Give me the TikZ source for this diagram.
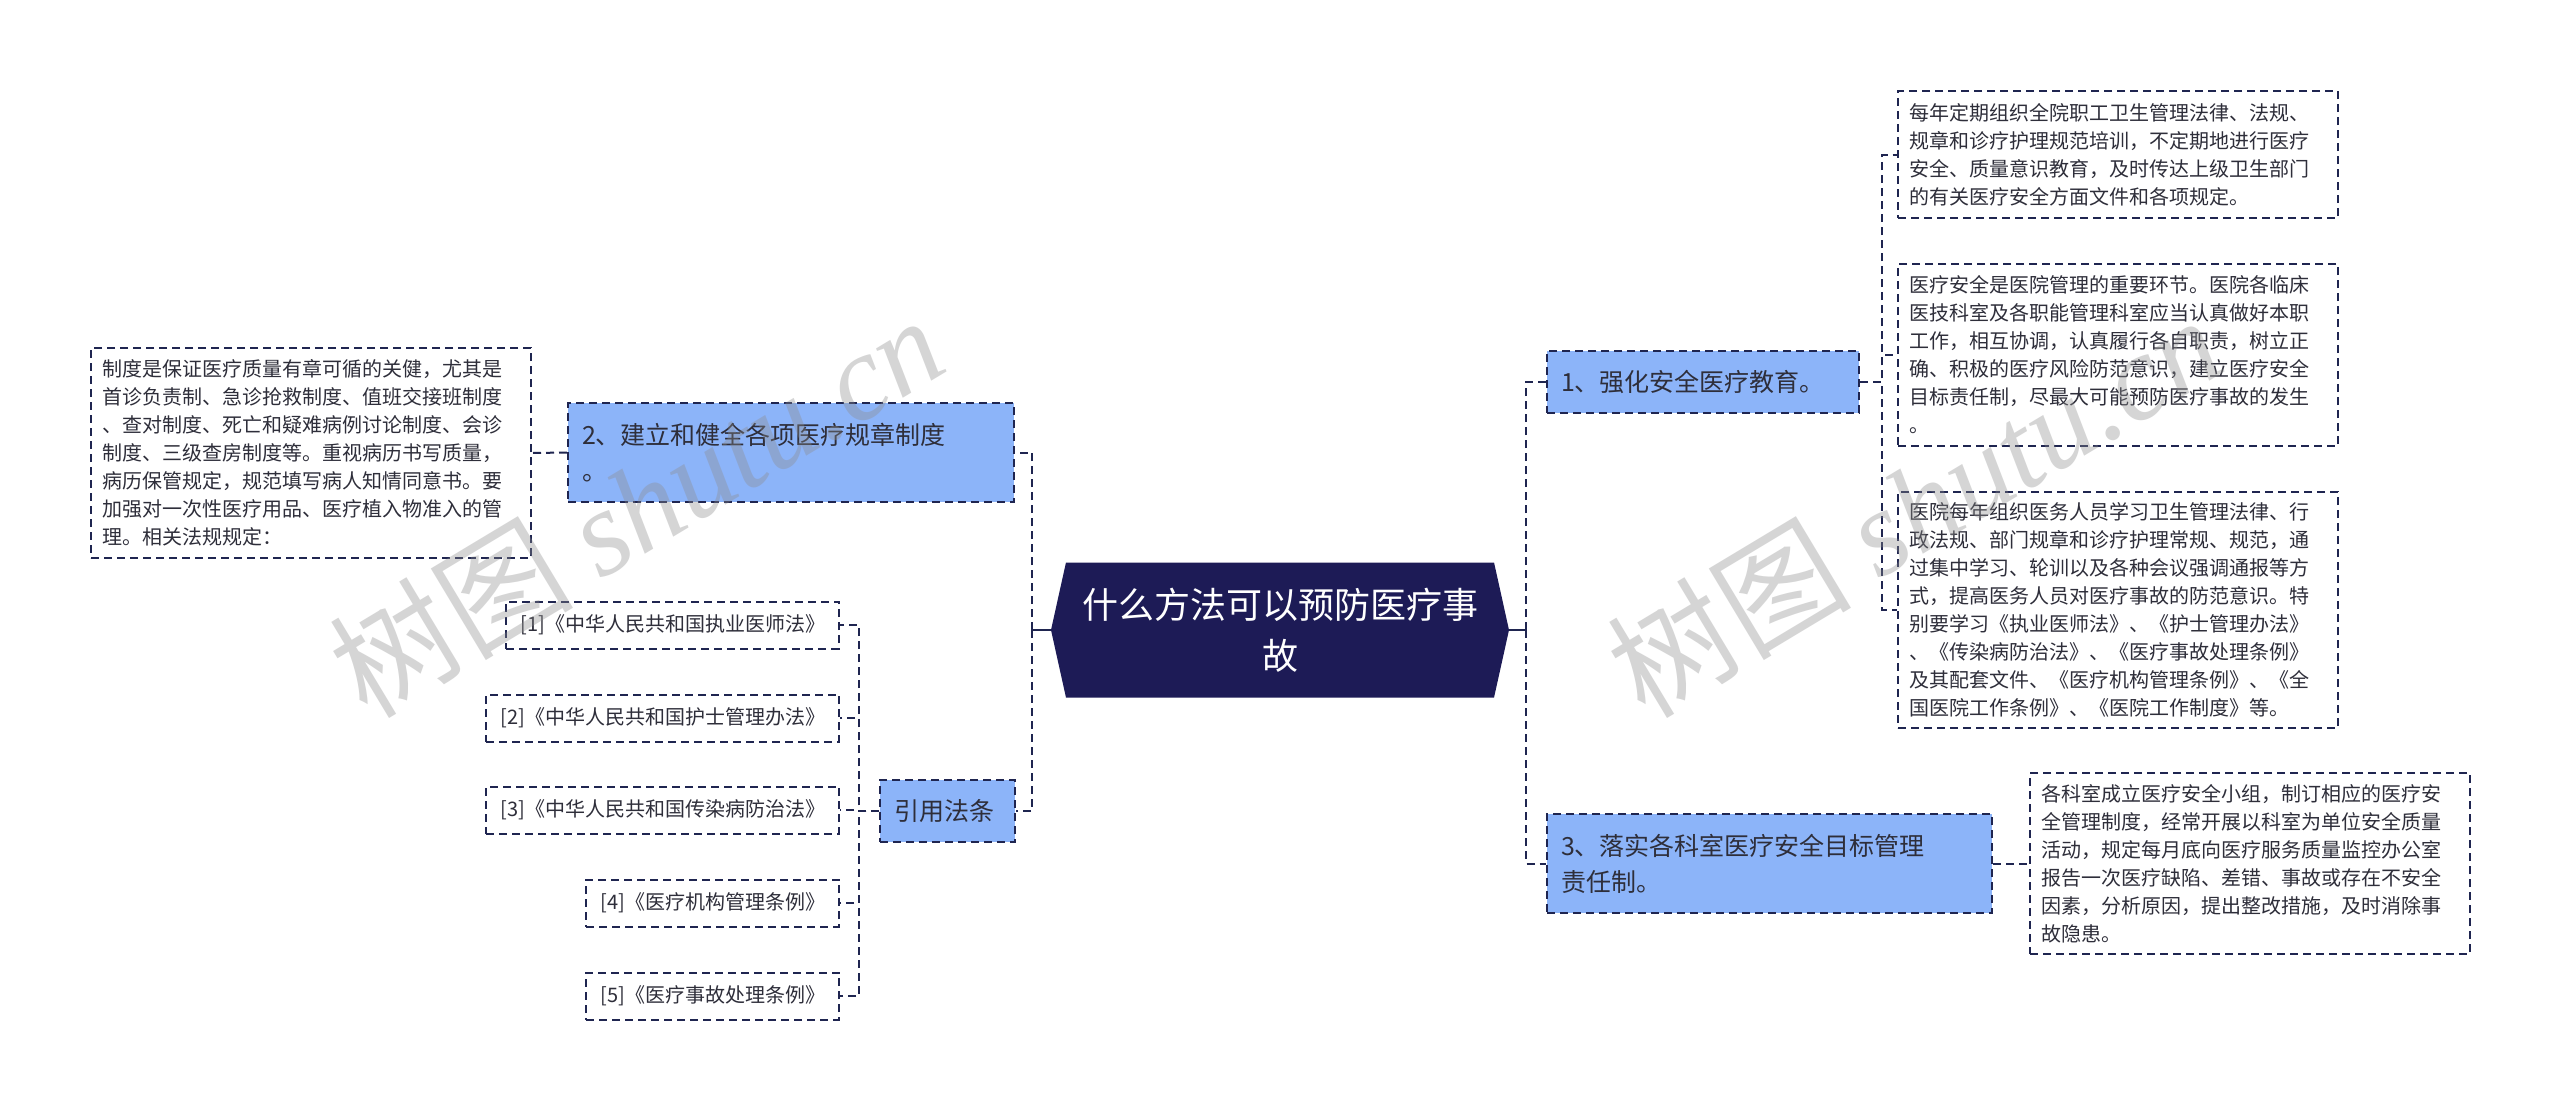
\documentclass[tikz,border=0pt]{standalone}
\usepackage{fontspec}
\setmainfont{Noto Sans CJK SC}
\newfontfamily\wmserif{Liberation Serif}
\usepackage{tikz}
\usetikzlibrary{shapes.symbols}
\definecolor{hubc}{HTML}{1D1B56}
\definecolor{linec}{HTML}{1F2550}
\definecolor{bluef}{HTML}{8CB4F9}
\definecolor{txt}{HTML}{2E2E3A}
\definecolor{wmgray}{HTML}{8C8C8C}
\tikzset{hub/.style={signal,signal to=west and east,signal pointer angle=155,fill=hubc,text=white,align=center,inner sep=0pt,minimum width=458pt,minimum height=135pt,font=\fontsize{36}{51}\selectfont},
topic/.style={anchor=north west,draw=linec,line width=2pt,dash pattern=on 8pt off 5pt,fill=bluef,text=txt,align=left,inner xsep=14pt,inner ysep=0pt,font=\fontsize{25}{36}\selectfont},
note/.style={anchor=north west,draw=linec,line width=2pt,dash pattern=on 8pt off 5pt,fill=white,text=txt,align=left,inner xsep=11pt,inner ysep=0pt,text width=418pt,font=\fontsize{20}{28}\selectfont},
cite/.style={anchor=east,draw=linec,line width=2pt,dash pattern=on 8pt off 5pt,fill=white,text=txt,inner xsep=14pt,inner ysep=0pt,minimum height=47pt,font=\fontsize{20}{24}\selectfont},
link/.style={draw=linec,line width=2pt,dash pattern=on 8pt off 5pt},
stub/.style={draw=linec,line width=2.5pt},
wmark/.style={rotate=31,text=wmgray,opacity=0.36,font=\fontsize{122}{122}\selectfont}}

\begin{document}
\begin{tikzpicture}[x=1pt,y=-1pt]
\useasboundingbox (0,0) rectangle (2560,1109);
\fill[white] (0,0) rectangle (2560,1109);
% centre
\node[hub] (hub) at (1280,630) {什么方法可以预防医疗事\\故};
% right side
\node[topic,text width=284pt,minimum height=62pt] (n1) at (1546,350) {1、强化安全医疗教育。};
\node[topic,text width=417pt,minimum height=99pt] (n3) at (1546,813) {3、落实各科室医疗安全目标管理\\责任制。};
\node[note,minimum height=127pt] (t1) at (1897,90) {每年定期组织全院职工卫生管理法律、法规、\\规章和诊疗护理规范培训，不定期地进行医疗\\安全、质量意识教育，及时传达上级卫生部门\\的有关医疗安全方面文件和各项规定。};
\node[note,minimum height=182pt] (t2) at (1897,263) {医疗安全是医院管理的重要环节。医院各临床\\医技科室及各职能管理科室应当认真做好本职\\工作，相互协调，认真履行各自职责，树立正\\确、积极的医疗风险防范意识，建立医疗安全\\目标责任制，尽最大可能预防医疗事故的发生\\。};
\node[note,minimum height=236pt] (t3) at (1897,491) {医院每年组织医务人员学习卫生管理法律、行\\政法规、部门规章和诊疗护理常规、规范，通\\过集中学习、轮训以及各种会议强调通报等方\\式，提高医务人员对医疗事故的防范意识。特\\别要学习《执业医师法》、《护士管理办法》\\、《传染病防治法》、《医疗事故处理条例》\\及其配套文件、《医疗机构管理条例》、《全\\国医院工作条例》、《医院工作制度》等。};
\node[note,minimum height=181pt] (t4) at (2029,772) {各科室成立医疗安全小组，制订相应的医疗安\\全管理制度，经常开展以科室为单位安全质量\\活动，规定每月底向医疗服务质量监控办公室\\报告一次医疗缺陷、差错、事故或存在不安全\\因素，分析原因，提出整改措施，及时消除事\\故隐患。};
% left side
\node[topic,text width=418pt,minimum height=99pt] (n2) at (567,402) {2、建立和健全各项医疗规章制度\\。};
\node[topic,text width=107pt,minimum height=62pt] (law) at (879,779) {引用法条};
\node[note,minimum height=210pt] (l1) at (90,347) {制度是保证医疗质量有章可循的关健，尤其是\\首诊负责制、急诊抢救制度、值班交接班制度\\、查对制度、死亡和疑难病例讨论制度、会诊\\制度、三级查房制度等。重视病历书写质量，\\病历保管规定，规范填写病人知情同意书。要\\加强对一次性医疗用品、医疗植入物准入的管\\理。相关法规规定：};
\node[cite] (r1) at (840,625) {[1]《中华人民共和国执业医师法》};
\node[cite] (r2) at (840,718) {[2]《中华人民共和国护士管理办法》};
\node[cite] (r3) at (840,810) {[3]《中华人民共和国传染病防治法》};
\node[cite] (r4) at (840,903) {[4]《医疗机构管理条例》};
\node[cite] (r5) at (840,996) {[5]《医疗事故处理条例》};
% connectors
\coordinate (rt) at (1526,630); \coordinate (lt) at (1032,630);
\draw[stub] (hub.east) -- (rt); \draw[stub] (hub.west) -- (lt);
\draw[link] (rt) |- (n1.west); \draw[link] (rt) |- (n3.west);
\draw[link] (lt) |- (n2.east); \draw[link] (lt) |- (law.east);
\draw[link] (n1.east) -- ([xshift=22pt]n1.east) |- (t1.west);
\draw[link] (n1.east) -- ([xshift=22pt]n1.east) |- (t2.west);
\draw[link] (n1.east) -- ([xshift=22pt]n1.east) |- (t3.west);
\draw[link] (n3.east) -- (t4.west);
\draw[link] (n2.west) -- (l1.east);
\draw[link] (law.west) -- ([xshift=-20pt]law.west) |- (r1.east);
\draw[link] (law.west) -- ([xshift=-20pt]law.west) |- (r2.east);
\draw[link] (law.west) -- ([xshift=-20pt]law.west) |- (r3.east);
\draw[link] (law.west) -- ([xshift=-20pt]law.west) |- (r4.east);
\draw[link] (law.west) -- ([xshift=-20pt]law.west) |- (r5.east);
% watermarks
\node[wmark] (wm1) at (636,505) {树图 {\wmserif\itshape shutu.cn}};
\node[wmark] (wm2) at (1914,505) {树图 {\wmserif\itshape shutu.cn}};
\end{tikzpicture}
\end{document}
